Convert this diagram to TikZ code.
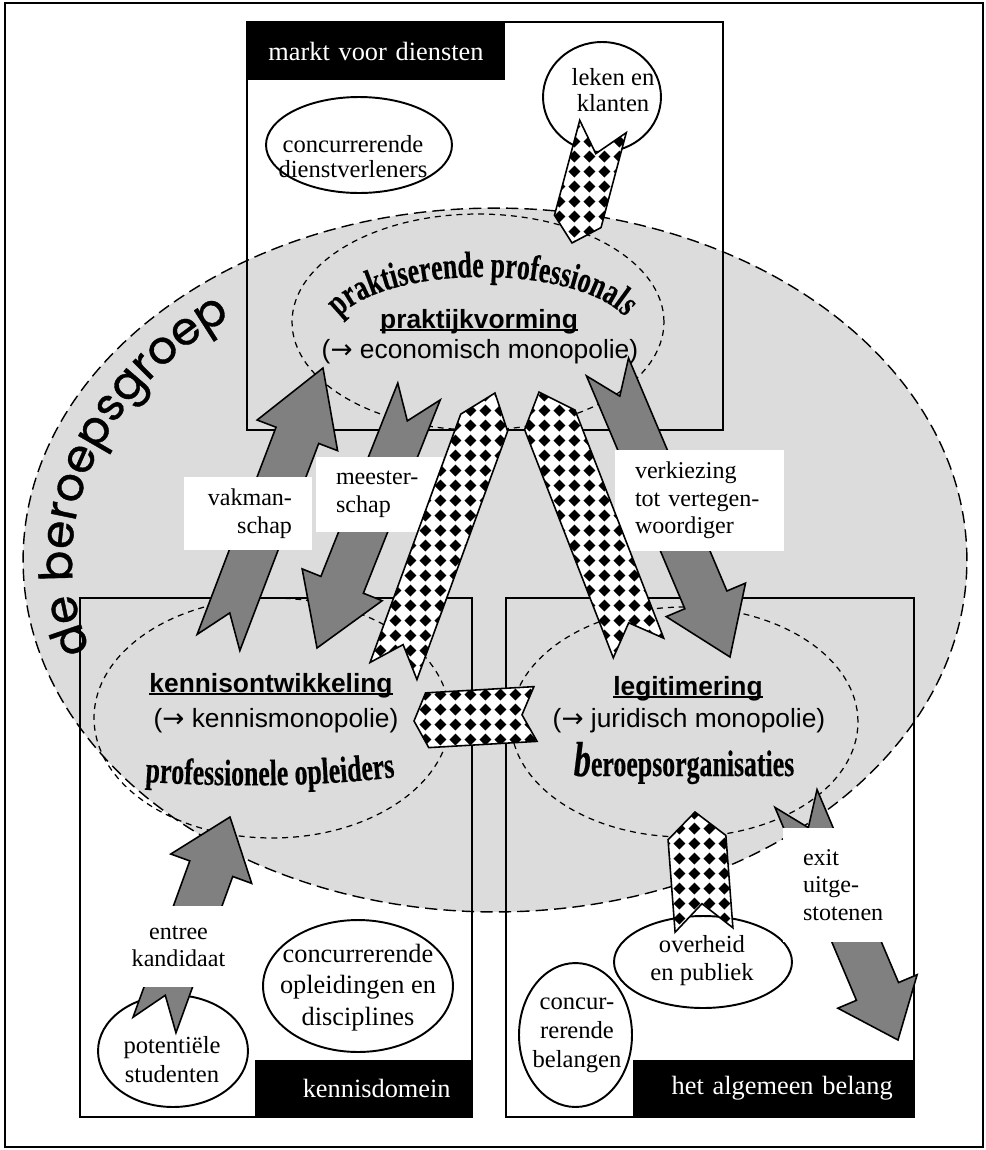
\documentclass[tikz,border=0pt]{standalone}
\usepackage{fontspec}
\setmainfont{Liberation Serif}
\setsansfont{Liberation Sans}
\newfontfamily\woordkunst[FakeStretch=0.7,FakeBold=0.4]{Liberation Serif}
\newfontfamily\groepfont[FakeBold=0.8]{Poppins}
\newfontfamily\pijlfont{DejaVu Sans}
\usetikzlibrary{shapes.geometric,calc,patterns,decorations.text}

\definecolor{groepGrijs}{HTML}{DCDCDC}
\definecolor{pijlGrijs}{HTML}{808080}

% checkered fill of the tag arrows
\pgfdeclarepatternformonly{ruitjes}{\pgfqpoint{0pt}{0pt}}{\pgfqpoint{8.5pt}{8.5pt}}{\pgfqpoint{8.5pt}{8.5pt}}{%
  \pgfpathmoveto{\pgfqpoint{4.25pt}{0.85pt}}%
  \pgfpathlineto{\pgfqpoint{7.65pt}{4.25pt}}%
  \pgfpathlineto{\pgfqpoint{4.25pt}{7.65pt}}%
  \pgfpathlineto{\pgfqpoint{0.85pt}{4.25pt}}%
  \pgfpathclose
  \pgfusepath{fill}}

\newcommand\onderstreep[1]{\setbox0\hbox{#1}\rlap{\rule[-1.8pt]{\wd0}{1pt}}\box0}
\newcommand\naar{{\pijlfont →}}
\newcommand\kunstfont{\woordkunst\bfseries\fontsize{21}{21}\selectfont}
\newcommand\beroepfont{\groepfont\fontsize{26}{26}\selectfont}

% band arrow: style, from, to, half shaft, half head, head length, notch (pt)
\newcommand\bandpijl[7]{%
  \path[#1] let \p1=(#2), \p2=(#3),
      \n1={atan2(\y2-\y1,\x2-\x1)},
      \n2={veclen(\x2-\x1,\y2-\y1)} in
    {[shift={(\p1)},rotate=\n1]
      (0pt,#4pt) -- (#7pt,0pt) -- (0pt,-#4pt) -- (\n2-#6pt,-#4pt)
      -- (\n2-#6pt,-#5pt) -- (\n2+0pt,0pt) -- (\n2-#6pt,#5pt)
      -- (\n2-#6pt,#4pt) -- cycle};}
\newcommand\grijzepijl[3]{\bandpijl{grijspijl}{#1}{#2}{13}{24.5}{#3}{18}}

\tikzset{
  % frames
  rand/.style={draw,line width=1.1pt},
  kader/.style={draw,line width=0.9pt},
  % black domain labels
  zwartlabel/.style={rectangle,fill=black,text=white,inner xsep=0.42cm,
    inner ysep=0pt,font=\fontsize{15}{17}\selectfont},
  % the profession (big grey oval)
  groepovaal/.style={ellipse,draw,fill=groepGrijs,line width=0.8pt,
    dash pattern=on 7pt off 3.5pt,inner sep=0pt,
    minimum width=18.88cm,minimum height=14.08cm},
  stippelovaal/.style={ellipse,draw,line width=0.7pt,
    dash pattern=on 3.4pt off 2.8pt,inner sep=0pt},
  ovaal/.style={ellipse,draw,fill=white,line width=1.1pt,inner sep=0pt},
  ovaaltekst/.style={anchor=base,align=center,inner sep=0pt},
  kop/.style={anchor=base,inner sep=0pt,
    font=\sffamily\bfseries\fontsize{15}{17}\selectfont},
  mono/.style={anchor=base,inner sep=0pt,
    font=\sffamily\fontsize{15}{17}\selectfont},
  wit/.style={rectangle,fill=white,inner xsep=0.4cm,inner ysep=0pt,
    font=\fontsize{13.7}{15.7}\selectfont},
  grijspijl/.style={draw,line width=0.9pt,fill=pijlGrijs,line join=miter},
  ruitpijl/.style={draw,line width=0.9pt,preaction={fill=white},
    pattern=ruitjes},
}

\begin{document}
\begin{tikzpicture}[x=0.02cm,y=-0.02cm]
  \useasboundingbox (0,0) rectangle (986,1150);
  \draw[rand] (5,3) rectangle (983,1147);

  % de beroepsgroep
  \node[groepovaal] (groep) at (495,560) {};
  \draw[kader] (247,22) rectangle (723,430);
  \draw[kader] (80,598) rectangle (472,1117);
  \draw[kader] (506,598) rectangle (914,1117);

  \node[zwartlabel,anchor=north west,text width=4.32cm,align=left,
    minimum height=1.16cm] (markt) at (247,22) {markt voor diensten};
  \node[zwartlabel,anchor=south east,text width=3.5cm,align=right,
    minimum height=1.14cm] (kennisdomein) at (472,1117) {kennisdomein};
  \node[zwartlabel,anchor=south east,text width=4.78cm,align=right,
    minimum height=1.14cm] (belang) at (914,1117) {het algemeen belang};

  % actors around (text anchored at the last baseline)
  \node[ovaal,minimum width=3.72cm,minimum height=1.92cm] (dienst) at (359,145) {};
  \node[ovaaltekst,font=\fontsize{14}{14.2}\selectfont] (dienst-t) at (353,177)
    {concurrerende\\dienstverleners};
  \node[ovaal,minimum width=2.36cm,minimum height=2.2cm] (leken) at (602,97) {};
  \node[ovaaltekst,font=\fontsize{14}{14.8}\selectfont] (leken-t) at (613,111)
    {leken en\\klanten};
  \node[ovaal,minimum width=3.8cm,minimum height=2.64cm] (opleid) at (358,986) {};
  \node[ovaaltekst,font=\fontsize{15}{17.9}\selectfont] (opleid-t) at (358,1025)
    {concurrerende\\opleidingen en\\disciplines};
  \node[ovaal,minimum width=3.0cm,minimum height=2.24cm] (studenten) at (173,1051) {};
  \node[ovaaltekst,font=\fontsize{14}{16.5}\selectfont] (studenten-t) at (172,1082)
    {potentiële\\studenten};
  \node[ovaal,minimum width=3.56cm,minimum height=1.84cm] (overheid) at (703,962) {};
  \node[ovaaltekst,font=\fontsize{14}{15.9}\selectfont] (overheid-t) at (702,980)
    {overheid\\en publiek};
  \node[ovaal,minimum width=2.26cm,minimum height=2.88cm] (concbel) at (575.5,1035) {};
  \node[ovaaltekst,font=\fontsize{14}{16.3}\selectfont] (concbel-t) at (577,1067)
    {concur-\\rerende\\belangen};

  % the three parts of the profession
  \node[stippelovaal,minimum width=7.44cm,minimum height=4.32cm] (praktijk) at (478,322) {};
  \node[stippelovaal,minimum width=7.12cm,minimum height=4.8cm] (kennis) at (272,718) {};
  \node[stippelovaal,minimum width=6.94cm,minimum height=4.6cm] (legit) at (684.5,722) {};

  \node[kop] (praktijk-kop) at (479,328) {\onderstreep{praktijkvorming}};
  \node[mono] (praktijk-mono) at (480,358) {(\naar{} economisch monopolie)};
  \node[kop] (kennis-kop) at (271,692) {\onderstreep{kennisontwikkeling}};
  \node[mono] (kennis-mono) at (276,727) {(\naar{} kennismonopolie)};
  \node[kop] (legit-kop) at (688,695) {\onderstreep{legitimering}};
  \node[mono] (legit-mono) at (689,727) {(\naar{} juridisch monopolie)};

  \path[decorate,decoration={text along path,text align=center,
      text={|\beroepfont|de beroepsgroep}}]
    (124,709.3) .. controls (11.8,558.6) and (87,369.7) .. (291.9,287.2);
  \path[decorate,decoration={text along path,text align=center,
      text={|\kunstfont|praktiserende professionals}}]
    (332,335) .. controls (332,303) and (399.2,277) .. (482,277)
    .. controls (564.8,277) and (632,303) .. (632,335);
  \path[decorate,decoration={text along path,text align=center,
      text={|\kunstfont|professionele opleiders}}]
    (120,780) .. controls (220,788) and (320,788) .. (420,774);
  \node[anchor=base,inner sep=0pt,font=\kunstfont] (orgs) at (684,776)
    {{\fontsize{28}{28}\selectfont\itshape b}eroepsorganisaties};

  % arrow ends
  \coordinate (vak-a) at (218.5,642.5);   \coordinate (vak-b) at (323,368);
  \coordinate (mst-a) at (419,391.5);     \coordinate (mst-b) at (317,648);
  \coordinate (verk-a) at (607.5,367);    \coordinate (verk-b) at (730,657);
  \coordinate (entree-a) at (154.5,1025); \coordinate (entree-b) at (230,817);
  \coordinate (exit-a) at (796,798.5);    \coordinate (exit-b) at (898,1040);
  \coordinate (kp-a) at (393.5,671);      \coordinate (kp-b) at (495,393);
  \coordinate (lp-a) at (638.5,648);      \coordinate (lp-b) at (539,392);
  \coordinate (lk-a) at (535.5,714);      \coordinate (lk-b) at (414,721);
  \coordinate (klant-a) at (603,126.5);   \coordinate (klant-b) at (572,243);
  \coordinate (over-a) at (704,930);      \coordinate (over-b) at (695,812);

  \grijzepijl{vak-a}{vak-b}{41}
  \grijzepijl{mst-a}{mst-b}{38.7}
  \grijzepijl{verk-a}{verk-b}{35.3}
  \grijzepijl{entree-a}{entree-b}{31.3}
  \grijzepijl{exit-a}{exit-b}{30}

  % labels on the arrows
  \node[wit,text width=1.76cm,align=right,minimum height=1.46cm] (vak) at (248,513.5)
    {vakman-\\schap};
  \node[wit,text width=1.74cm,align=left,minimum height=1.5cm] (meester) at (379.5,494.5)
    {meester-\\schap};
  \node[wit,text width=2.58cm,align=left,minimum height=2.02cm] (verk) at (699.5,500.5)
    {verkiezing\\tot vertegen-\\woordiger};
  \node[wit,text width=1.64cm,align=left,minimum height=2.28cm] (exit) at (844,885)
    {exit\\uitge-\\stotenen};
  \node[wit,inner xsep=0.05cm,text width=2.04cm,align=center,minimum height=1.62cm]
    (entree) at (178.5,946.5) {entree\\kandidaat};

  \bandpijl{ruitpijl}{kp-a}{kp-b}{14.2}{14.2}{18}{16}
  \bandpijl{ruitpijl}{lp-a}{lp-b}{15.4}{15.4}{17}{15.4}
  \bandpijl{ruitpijl}{lk-a}{lk-b}{15.6}{15.6}{7.5}{7.7}
  \bandpijl{ruitpijl}{klant-a}{klant-b}{13.7}{13.7}{12.7}{16}
  \bandpijl{ruitpijl}{over-a}{over-b}{16.5}{16.5}{14.6}{15}
\end{tikzpicture}
\end{document}
